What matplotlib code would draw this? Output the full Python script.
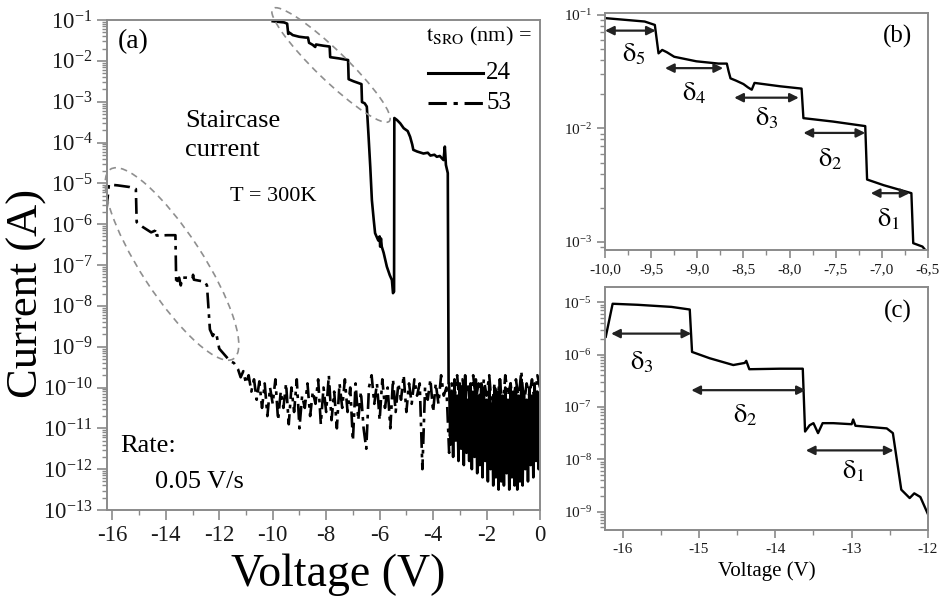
import numpy as np
import matplotlib
matplotlib.use("Agg")
import matplotlib.pyplot as plt
from matplotlib.patches import Ellipse
from matplotlib.ticker import (LogFormatterMathtext, MultipleLocator,
                               FuncFormatter, NullFormatter, FixedLocator)
from matplotlib.lines import Line2D

plt.rcParams['font.family'] = ['Liberation Serif', 'DejaVu Serif']
plt.rcParams['mathtext.fontset'] = 'stix'
plt.rcParams['axes.unicode_minus'] = False

# ---- t_SRO = 24 nm sweep: voltage (V) and log10 current (A) ----
v24_steps = [-10.00, -9.57, -9.46, -9.42, -9.38, -9.33, -9.25, -9.01, -8.77, -8.68,
             -8.66, -8.64, -8.58, -8.50, -8.45, -8.41, -8.38, -8.10, -7.87, -7.85,
             -7.53, -7.18, -7.16, -6.98, -6.68, -6.66, -6.56, -6.50, -6.48, -6.42,
             -6.35, -6.29, -6.22, -6.17, -6.05, -6.00, -5.98, -5.95, -5.92, -5.85,
             -5.73, -5.62, -5.54, -5.50, -5.46, -5.45, -5.35, -5.23, -5.10, -4.95,
             -4.86, -4.78, -4.74, -4.60, -4.36, -4.20, -4.10, -3.95, -3.86, -3.75,
             -3.61, -3.56, -3.52, -3.45, -3.42]
log_i24_steps = [-1.03, -1.06, -1.09, -1.34, -1.31, -1.33, -1.37, -1.41, -1.43, -1.43,
                 -1.50, -1.56, -1.58, -1.61, -1.64, -1.66, -1.60, -1.63, -1.65, -1.91,
                 -1.94, -1.98, -2.45, -2.50, -2.57, -3.01, -3.04, -3.10, -3.12, -3.78,
                 -4.60, -5.41, -5.90, -6.22, -6.40, -6.30, -6.55, -6.35, -6.55, -6.70,
                 -7.04, -7.25, -7.37, -7.69, -7.65, -3.40, -3.45, -3.53, -3.65, -3.72,
                 -3.86, -4.05, -4.18, -4.22, -4.27, -4.25, -4.32, -4.30, -4.35, -4.33,
                 -4.43, -4.10, -4.55, -4.75, -9.90]
# noise floor after breakdown, sampled every 0.05 V from -3.40 V to 0 V
log_i24_noise = [-9.9, -11.4, -10.1, -11.7, -9.8, -11.3, -10.2, -11.8, -9.9, -11.5,
                 -10.0, -11.9, -9.7, -11.6, -10.3, -11.8, -9.9, -12.0, -10.1, -11.7,
                 -9.8, -12.1, -10.2, -11.9, -9.9, -12.2, -10.0, -11.8, -10.3, -12.3,
                 -9.9, -12.0, -10.4, -12.4, -10.0, -12.2, -10.1, -12.5, -9.8, -12.3,
                 -10.2, -12.4, -10.0, -12.1, -10.3, -12.5, -9.9, -12.2, -10.1, -12.4,
                 -10.0, -12.5, -10.2, -12.3, -9.8, -12.4, -10.1, -12.0, -10.3, -12.3,
                 -10.0, -11.9, -10.2, -12.2, -9.9, -11.8, -10.1, -12.0, -10.2]
v24_noise = np.round(np.linspace(-3.40, 0.0, len(log_i24_noise)), 3)

# ---- t_SRO = 53 nm sweep ----
v53_steps = [-16.22, -16.13, -15.80, -15.36, -15.12, -15.09, -14.86, -14.55, -14.40, -14.38,
             -14.34, -13.94, -13.64, -13.61, -13.55, -13.50, -13.44, -13.38, -13.24, -13.00,
             -12.98, -12.95, -12.54, -12.46, -12.35, -12.24, -12.18, -12.10, -12.00, -11.80,
             -11.60, -11.45]
log_i53_steps = [-5.66, -5.03, -5.05, -5.09, -5.14, -5.95, -6.07, -6.20, -6.16, -6.12,
                 -6.28, -6.27, -6.27, -7.47, -7.35, -7.31, -7.50, -7.31, -7.31, -7.33,
                 -7.24, -7.36, -7.41, -7.50, -8.58, -8.74, -8.65, -8.72, -9.05, -9.20,
                 -9.35, -9.40]
# noise floor, sampled every 0.1 V from -11.3 V to 0 V
log_i53_noise = [-9.55, -9.75, -9.6, -9.9, -9.7, -10.1, -9.8, -10.3, -9.85, -10.5,
                 -9.9, -10.7, -10.0, -10.4, -9.8, -10.8, -10.1, -10.5, -9.9, -10.9,
                 -10.0, -10.6, -9.8, -11.0, -10.2, -10.5, -9.9, -10.7, -10.1, -10.4,
                 -9.8, -10.9, -10.0, -10.6, -9.7, -10.8, -10.1, -11.0, -9.9, -10.5,
                 -9.8, -10.6, -10.0, -11.3, -9.9, -10.8, -10.1, -11.0, -11.5, -10.0,
                 -9.7, -10.4, -9.9, -10.8, -9.8, -10.5, -10.0, -11.0, -9.8, -10.6,
                 -9.9, -10.3, -9.7, -10.6, -9.9, -10.4, -9.8, -10.2, -9.9, -12.0,
                 -10.0, -10.3, -9.8, -10.6, -9.9, -10.4, -9.7, -10.2, -10.0, -11.6,
                 -9.9, -10.3, -9.7, -10.5, -9.8, -10.2, -9.9, -10.6, -9.7, -10.3,
                 -9.9, -10.4, -9.8, -10.2, -9.7, -10.5, -9.9, -10.3, -9.8, -10.6,
                 -9.7, -10.2, -9.9, -10.5, -9.8, -10.3, -9.6, -10.4, -9.9, -10.2,
                 -9.8, -10.4, -9.7, -10.0]
v53_noise = np.round(np.linspace(-11.3, 0.0, len(log_i53_noise)), 3)

v24 = np.concatenate([v24_steps, v24_noise])
i24 = 10.0 ** np.concatenate([log_i24_steps, log_i24_noise])
v53 = np.concatenate([v53_steps, v53_noise])
i53 = 10.0 ** np.concatenate([log_i53_steps, log_i53_noise])

series_labels = ['24', '53']

# step widths marked in the zoomed panels:
# (label, V start, V end, log10 I of arrow, label V, label log10 I)
steps_b = [("5", -10.0, -9.45, -1.14, -9.69, -1.35),
           ("4", -9.35, -8.72, -1.47, -9.03, -1.69),
           ("3", -8.60, -7.90, -1.73, -8.25, -1.91),
           ("2", -7.85, -7.18, -2.04, -7.56, -2.27),
           ("1", -7.12, -6.70, -2.57, -6.93, -2.80)]
steps_c = [("3", -16.15, -15.10, -5.60, -15.75, -6.15),
           ("2", -15.10, -13.60, -6.68, -14.40, -7.15),
           ("1", -13.60, -12.45, -7.83, -12.98, -8.23)]

DASHDOT = (0, (6, 2.2, 1.4, 2.2))
SPINE = '#8a8a8a'
TXT = '#1a1a1a'

fig = plt.figure(figsize=(9.42, 6.10), dpi=100)
W, H = 942.0, 610.0


def px_axes(l, t, r, b):
    return fig.add_axes([l / W, 1 - b / H, (r - l) / W, (b - t) / H])


def style_axes(ax, size):
    for s in ax.spines.values():
        s.set_color(SPINE)
        s.set_linewidth(1.4)
    ax.tick_params(which='both', direction='out', color=SPINE, labelcolor=TXT,
                   labelsize=size, top=False, right=False)
    ax.tick_params(which='major', length=6, width=1.2)
    ax.tick_params(which='minor', length=3.5, width=1.0)


def log_y(ax, lo, hi):
    ax.set_yscale('log')
    ax.yaxis.set_major_locator(FixedLocator([10.0 ** k for k in range(lo, hi + 1)]))
    ax.yaxis.set_major_formatter(LogFormatterMathtext())
    minors = [m * 10.0 ** k for k in range(lo - 1, hi + 1) for m in range(2, 10)]
    ax.yaxis.set_minor_locator(FixedLocator(minors))
    ax.yaxis.set_minor_formatter(NullFormatter())


# ---------------- panel (a) ----------------
ax = px_axes(107, 20, 540, 510)
log_y(ax, -13, -1)
ax.plot(v24, i24, color='black', lw=1.9)
ax.plot(v53, i53, color='black', lw=1.9, linestyle=DASHDOT)
ax.set_xlim(-16.2, 0)
ax.set_ylim(1e-13, 1e-1)
ax.xaxis.set_major_locator(MultipleLocator(2))
ax.xaxis.set_minor_locator(MultipleLocator(1))
style_axes(ax, 16.5)
ax.tick_params(which='major', length=7)
ax.set_xlabel('Voltage (V)', fontsize=33)
ax.xaxis.set_label_coords((338 - 107) / 433, (510 - 553) / 490)
ax.set_ylabel('Current (A)', fontsize=32)
ax.yaxis.set_label_coords((47 - 107) / 433, (510 - 293) / 490)

ax.text(0.025, 0.955, '(a)', transform=ax.transAxes, fontsize=20, va='center', ha='left')
ax.text(0.18, 0.765, 'Staircase\ncurrent', transform=ax.transAxes, fontsize=19,
        va='center', ha='left', linespacing=1.4)
ax.text(0.284, 0.639, 'T = 300K', transform=ax.transAxes, fontsize=16, va='center', ha='left')
ax.text(0.03, 0.13, 'Rate:', transform=ax.transAxes, fontsize=19, va='center', ha='left')
ax.text(0.11, 0.057, '0.05 V/s', transform=ax.transAxes, fontsize=19, va='center', ha='left')

# key for the two film thicknesses
fx = lambda px: (px - 107) / 433
fy = lambda py: (510 - py) / 490
ax.text(fx(426), fy(36), r'$\mathrm{t}_{\mathrm{SRO}}$ (nm) =', transform=ax.transAxes,
        fontsize=16, ha='left', va='center')
for py, ls, lab in [(73, '-', series_labels[0]), (103, DASHDOT, series_labels[1])]:
    ax.add_line(Line2D([fx(428), fx(483)], [fy(py), fy(py)], transform=ax.transAxes,
                       color='black', lw=2.2, linestyle=ls))
    ax.text(fx(486), fy(py), lab, transform=ax.transAxes, fontsize=18,
            ha='left', va='center')

# dashed outlines around the two staircase regions (drawn in inches so they stay elliptical)
for cx, cy, w, h, ang in [(331, 65, 162, 30, -44), (172, 264, 226, 62, -57)]:
    e = Ellipse((cx / 100, (H - cy) / 100), w / 100, h / 100, angle=ang,
                transform=fig.dpi_scale_trans, fill=False, edgecolor='#8f8f8f',
                lw=1.2, linestyle=(0, (4, 3)), clip_on=False)
    fig.add_artist(e)

# ---------------- panel (b) ----------------
axb = px_axes(605, 13, 928, 250)
log_y(axb, -3, -1)
axb.plot(v24, i24, color='black', lw=1.7)
axb.set_xlim(-10.0, -6.5)
axb.set_ylim(10 ** -3.07, 10 ** -0.985)
axb.xaxis.set_major_locator(MultipleLocator(0.5))
axb.xaxis.set_minor_locator(MultipleLocator(0.25))
axb.xaxis.set_major_formatter(FuncFormatter(lambda x, p: f'{x:.1f}'.replace('.', ',')))
style_axes(axb, 11)
axb.text(0.95, 0.9, '(b)', transform=axb.transAxes, fontsize=18, ha='right', va='center')

# ---------------- panel (c) ----------------
axc = px_axes(605, 287, 928, 530)
log_y(axc, -9, -5)
axc.plot(v53, i53, color='black', lw=1.7)
axc.set_xlim(-16.23, -12.0)
axc.set_ylim(10 ** -9.35, 10 ** -4.71)
axc.xaxis.set_major_locator(MultipleLocator(1))
axc.xaxis.set_minor_locator(MultipleLocator(0.5))
style_axes(axc, 11)
axc.set_xlabel('Voltage (V)', fontsize=15, labelpad=4)
axc.text(0.95, 0.9, '(c)', transform=axc.transAxes, fontsize=18, ha='right', va='center')

for a, steps in [(axb, steps_b), (axc, steps_c)]:
    for lab, x0, x1, ly, tx, ty in steps:
        a.annotate('', xy=(x1, 10 ** ly), xytext=(x0, 10 ** ly),
                   arrowprops=dict(arrowstyle='<|-|>', color='#222222', lw=1.6,
                                   mutation_scale=13, shrinkA=0, shrinkB=0))
        a.text(tx, 10 ** ty, r'$\mathrm{\delta}_{%s}$' % lab, fontsize=19,
               ha='center', va='center')

fig.savefig('out.png', dpi=100)
